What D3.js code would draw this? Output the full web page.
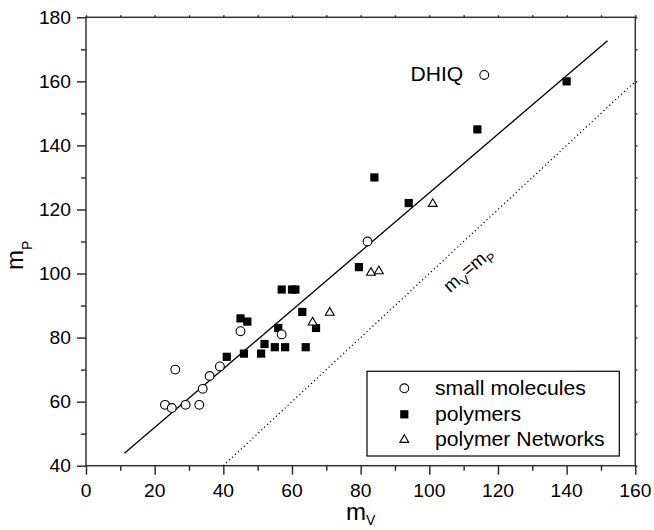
<!DOCTYPE html>
<html><head><meta charset="utf-8">
<script src="https://cdn.jsdelivr.net/npm/d3@7"></script>
<style>
body{margin:0;background:#fff}
svg text{font-family:"Liberation Sans",Arial,Helvetica,sans-serif;fill:#000}
</style>
</head><body>
<svg id="c" width="654" height="530"></svg>
<script>
// ---- data ----
const smallMolecules = [[23,59],[25,58],[26,70],[29,59],[33,59],[34,64],[36,68],[39,71],[45,82],[57,81],[82,110],[116,162]];
const polymers = [[41,74],[45,86],[46,75],[47,85],[51,75],[52,78],[55,77],[56,83],[57,95],[58,77],[60,95],[61,95],[63,88],[64,77],[67,83],[79.5,102],[84,130],[94,122],[114,145],[140,160]];
const networks = [[66,85],[71,88],[83,100.5],[85.3,101],[101,122]];
const fitLine = [[11.2,43.9],[151.9,172.7]];
const identityLine = [[40,40],[160,160]];
const xMajor = [0,20,40,60,80,100,120,140,160];
const xMinor = [10,30,50,70,90,110,130,150];
const yMajor = [40,60,80,100,120,140,160,180];
const yMinor = [50,70,90,110,130,150,170];
const legendLabels = ["small molecules","polymers","polymer Networks"];
const annotation = {label:"DHIQ"};

// ---- layout ----
const L = 86, R = 635.3, T = 17.3, B = 465.7;
const x = d3.scaleLinear().domain([0,160]).range([L,R]);
const y = d3.scaleLinear().domain([40,180]).range([B,T]);
const svg = d3.select("#c");
const SX = 1.1;

// axes (tick lines)
const axCol = "#222";
function styleAxis(g){ g.select(".domain").remove(); g.selectAll("line").attr("stroke",axCol).attr("stroke-width",1.4); }
svg.append("g").attr("transform",`translate(0,${B})`)
  .call(d3.axisBottom(x).tickValues(xMajor).tickSize(9).tickSizeOuter(0).tickFormat("")).call(styleAxis);
svg.append("g").attr("transform",`translate(0,${B})`)
  .call(d3.axisBottom(x).tickValues(xMinor).tickSize(5).tickSizeOuter(0).tickFormat("")).call(styleAxis);
svg.append("g").attr("transform",`translate(${L},0)`)
  .call(d3.axisLeft(y).tickValues(yMajor).tickSize(9).tickSizeOuter(0).tickFormat("")).call(styleAxis);
svg.append("g").attr("transform",`translate(${L},0)`)
  .call(d3.axisLeft(y).tickValues(yMinor).tickSize(5).tickSizeOuter(0).tickFormat("")).call(styleAxis);
svg.append("g").attr("transform",`translate(0,${T})`)
  .call(d3.axisTop(x).tickValues(xMajor.concat(xMinor)).tickSize(2).tickSizeOuter(0).tickFormat("")).call(styleAxis);
svg.append("g").attr("transform",`translate(${R},0)`)
  .call(d3.axisRight(y).tickValues(yMajor.concat(yMinor)).tickSize(2).tickSizeOuter(0).tickFormat("")).call(styleAxis);

// frame
svg.append("rect").attr("x",L).attr("y",T).attr("width",R-L).attr("height",B-T)
  .attr("fill","none").attr("stroke","#333").attr("stroke-width",1.5);

// tick labels
svg.append("g").selectAll("text").data(xMajor).join("text")
  .attr("transform",d=>`translate(${x(d)},${B+31}) scale(${SX},1)`)
  .attr("text-anchor","middle").attr("font-size",17.5).text(d=>d);
svg.append("g").selectAll("text").data(yMajor).join("text")
  .attr("transform",d=>`translate(71,${y(d)+6.2}) scale(${SX},1)`)
  .attr("text-anchor","end").attr("font-size",17.5).text(d=>d);

// axis titles
const xt = svg.append("text").attr("x",346).attr("y",520).attr("font-size",24);
xt.append("tspan").text("m");
xt.append("tspan").attr("font-size",14).attr("dy",5).text("V");
const yt = svg.append("text").attr("transform","translate(23,270) rotate(-90)").attr("font-size",24);
yt.append("tspan").text("m");
yt.append("tspan").attr("font-size",14).attr("dy",9).text("P");

// lines
const line = d3.line().x(d=>x(d[0])).y(d=>y(d[1]));
svg.append("path").attr("d",line(identityLine)).attr("fill","none").attr("stroke","#000")
  .attr("stroke-width",1.2).attr("stroke-dasharray","1.2,2.8");
svg.append("path").attr("d",line(fitLine)).attr("fill","none").attr("stroke","#000").attr("stroke-width",1.3);

// identity label
const il = svg.append("text").attr("transform","translate(472,274) rotate(-41)")
  .attr("text-anchor","middle").attr("font-size",18.5);
il.append("tspan").text("m");
il.append("tspan").attr("font-size",12.5).attr("dy",5).text("V");
il.append("tspan").attr("dy",-5).text("=m");
il.append("tspan").attr("font-size",12.5).attr("dy",5).text("P");

// markers
const sq = 8.2, cr = 4.4;
const triPath = d3.symbol().type(d3.symbolTriangle).size(34)();
function drawCircle(g, px, py){ g.append("circle").attr("cx",px).attr("cy",py).attr("r",cr).attr("fill","#fff").attr("stroke","#000").attr("stroke-width",1.1); }
function drawSquare(g, px, py){ g.append("rect").attr("x",px-sq/2).attr("y",py-sq/2).attr("width",sq).attr("height",sq).attr("fill","#000"); }
function drawTri(g, px, py){ g.append("path").attr("d",triPath).attr("transform",`translate(${px},${py+0.8})`).attr("fill","#fff").attr("stroke","#000").attr("stroke-width",1.1); }

const gp = svg.append("g");
polymers.forEach(d=>drawSquare(gp, x(d[0]), y(d[1])));
networks.forEach(d=>drawTri(gp, x(d[0]), y(d[1])));
smallMolecules.forEach(d=>drawCircle(gp, x(d[0]), y(d[1])));

// DHIQ annotation
svg.append("text").attr("transform",`translate(410.5,81) scale(1.03,1)`).attr("font-size",20.5).text(annotation.label);

// legend
const lg = svg.append("g");
lg.append("rect").attr("x",367).attr("y",371.3).attr("width",252.3).attr("height",84.7)
  .attr("fill","#fff").attr("stroke","#000").attr("stroke-width",1.2);
const rows = [388.3,414.3,439];
drawCircle(lg,404.3,rows[0]); drawSquare(lg,404.3,rows[1]); drawTri(lg,404.3,rows[2]);
legendLabels.forEach((t,i)=>{
  lg.append("text").attr("transform",`translate(435,${rows[i]+7}) scale(${SX},1)`).attr("font-size",19.3).text(t);
});
</script>
</body></html>
